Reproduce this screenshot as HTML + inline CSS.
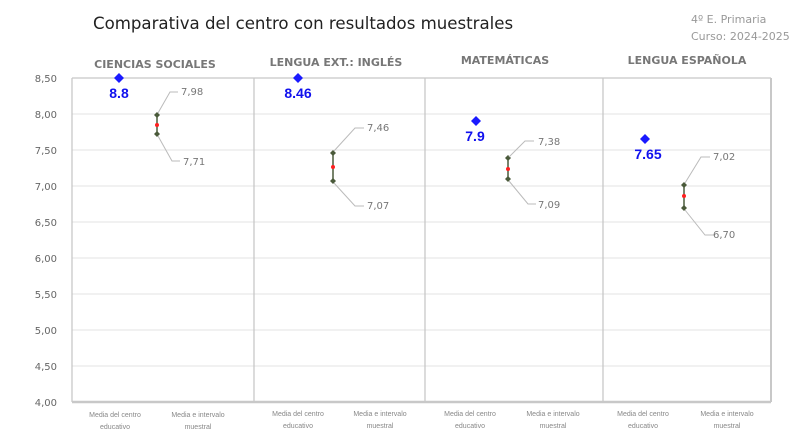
<!DOCTYPE html>
<html><head><meta charset="utf-8"><style>
html,body{margin:0;padding:0;background:#fff;width:796px;height:445px;overflow:hidden}
svg{display:block;font-family:"Liberation Sans","DejaVu Sans",sans-serif}
</style></head><body>
<svg width="796" height="445" viewBox="0 0 796 445">
<text x="93" y="29" font-size="16.6" fill="#222" font-family="DejaVu Sans, sans-serif">Comparativa del centro con resultados muestrales</text>
<text x="691" y="23" font-size="11" fill="#999" font-family="DejaVu Sans, sans-serif">4º E. Primaria</text>
<text x="691" y="40" font-size="11" fill="#999" font-family="DejaVu Sans, sans-serif">Curso: 2024-2025</text>
<g font-family="DejaVu Sans, sans-serif" font-weight="bold" font-size="11" fill="#777" text-anchor="middle">
<text x="155" y="68">CIENCIAS SOCIALES</text>
<text x="336" y="66">LENGUA EXT.: INGLÉS</text>
<text x="505" y="64">MATEMÁTICAS</text>
<text x="687" y="64">LENGUA ESPAÑOLA</text>
</g>
<g stroke="#e3e3e3" stroke-width="1">
<line x1="72" y1="114" x2="771" y2="114"/><line x1="72" y1="150" x2="771" y2="150"/>
<line x1="72" y1="186" x2="771" y2="186"/><line x1="72" y1="222" x2="771" y2="222"/>
<line x1="72" y1="258" x2="771" y2="258"/><line x1="72" y1="294" x2="771" y2="294"/>
<line x1="72" y1="330" x2="771" y2="330"/><line x1="72" y1="366" x2="771" y2="366"/>
</g>
<g stroke="#c8c8c8" stroke-width="1.3" fill="none">
<line x1="72" y1="78" x2="771" y2="78"/>
<line x1="72" y1="78" x2="72" y2="402"/>
<line x1="254" y1="78" x2="254" y2="402"/>
<line x1="425" y1="78" x2="425" y2="402"/>
<line x1="603" y1="78" x2="603" y2="402"/>
<line x1="771" y1="78" x2="771" y2="402" stroke-width="2"/>
<line x1="72" y1="402" x2="771" y2="402" stroke-width="2.5"/>
</g>
<g fill="#666" font-size="10" text-anchor="end" font-family="DejaVu Sans, sans-serif">
<text x="57" y="82">8,50</text><text x="57" y="118">8,00</text><text x="57" y="154">7,50</text>
<text x="57" y="190">7,00</text><text x="57" y="226">6,50</text><text x="57" y="262">6,00</text>
<text x="57" y="298">5,50</text><text x="57" y="334">5,00</text><text x="57" y="370">4,50</text>
<text x="57" y="406">4,00</text>
</g>
<g fill="#1a1aff">
<path d="M119,73 l5,5 l-5,5 l-5,-5z"/><path d="M298,73 l5,5 l-5,5 l-5,-5z"/>
<path d="M476,116 l5,5 l-5,5 l-5,-5z"/><path d="M645,134 l5,5 l-5,5 l-5,-5z"/>
</g>
<g fill="#1010ee" font-weight="bold" font-size="14" text-anchor="middle">
<text x="119" y="98">8.8</text><text x="298" y="98">8.46</text>
<text x="475" y="141">7.9</text><text x="648" y="159">7.65</text>
</g>
<g stroke="#4a5a3a" stroke-width="1.5">
<line x1="157" y1="115" x2="157" y2="134"/><line x1="333" y1="153" x2="333" y2="181"/>
<line x1="508" y1="158" x2="508" y2="179"/><line x1="684" y1="185" x2="684" y2="208"/>
</g>
<g fill="#4a5a3a">
<path d="M157,112 l3,3 l-3,3 l-3,-3z"/><path d="M157,131 l3,3 l-3,3 l-3,-3z"/>
<path d="M333,150 l3,3 l-3,3 l-3,-3z"/><path d="M333,178 l3,3 l-3,3 l-3,-3z"/>
<path d="M508,155 l3,3 l-3,3 l-3,-3z"/><path d="M508,176 l3,3 l-3,3 l-3,-3z"/>
<path d="M684,182 l3,3 l-3,3 l-3,-3z"/><path d="M684,205 l3,3 l-3,3 l-3,-3z"/>
</g>
<g fill="#ff2020">
<circle cx="157" cy="125" r="2"/><circle cx="333" cy="167" r="2"/>
<circle cx="508" cy="169" r="2"/><circle cx="684" cy="196" r="2"/>
</g>
<g stroke="#bbb" stroke-width="1" fill="none">
<polyline points="158,113 170,92 178,92"/><polyline points="158,136 172,161 180,161"/>
<polyline points="334,151 355,128 364,128"/><polyline points="334,183 355,206 364,206"/>
<polyline points="509,157 525,141 534,141"/><polyline points="509,181 528,204 536,204"/>
<polyline points="685,183 701,157 710,157"/><polyline points="685,210 705,235 714,235"/>
</g>
<g fill="#777" font-size="10" font-family="DejaVu Sans, sans-serif">
<text x="181" y="95">7,98</text><text x="183" y="165">7,71</text>
<text x="367" y="131">7,46</text><text x="367" y="209">7,07</text>
<text x="538" y="145">7,38</text><text x="538" y="208">7,09</text>
<text x="713" y="160">7,02</text><text x="713" y="238">6,70</text>
</g>
<g fill="#888" font-size="7" text-anchor="middle">
<text x="115" y="417">Media del centro</text><text x="115" y="429">educativo</text>
<text x="198" y="417">Media e intervalo</text><text x="198" y="429">muestral</text>
<text x="298" y="416">Media del centro</text><text x="298" y="428">educativo</text>
<text x="380" y="416">Media e intervalo</text><text x="380" y="428">muestral</text>
<text x="470" y="416">Media del centro</text><text x="470" y="428">educativo</text>
<text x="553" y="416">Media e intervalo</text><text x="553" y="428">muestral</text>
<text x="643" y="416">Media del centro</text><text x="643" y="428">educativo</text>
<text x="727" y="416">Media e intervalo</text><text x="727" y="428">muestral</text>
</g>
</svg>
</body></html>
